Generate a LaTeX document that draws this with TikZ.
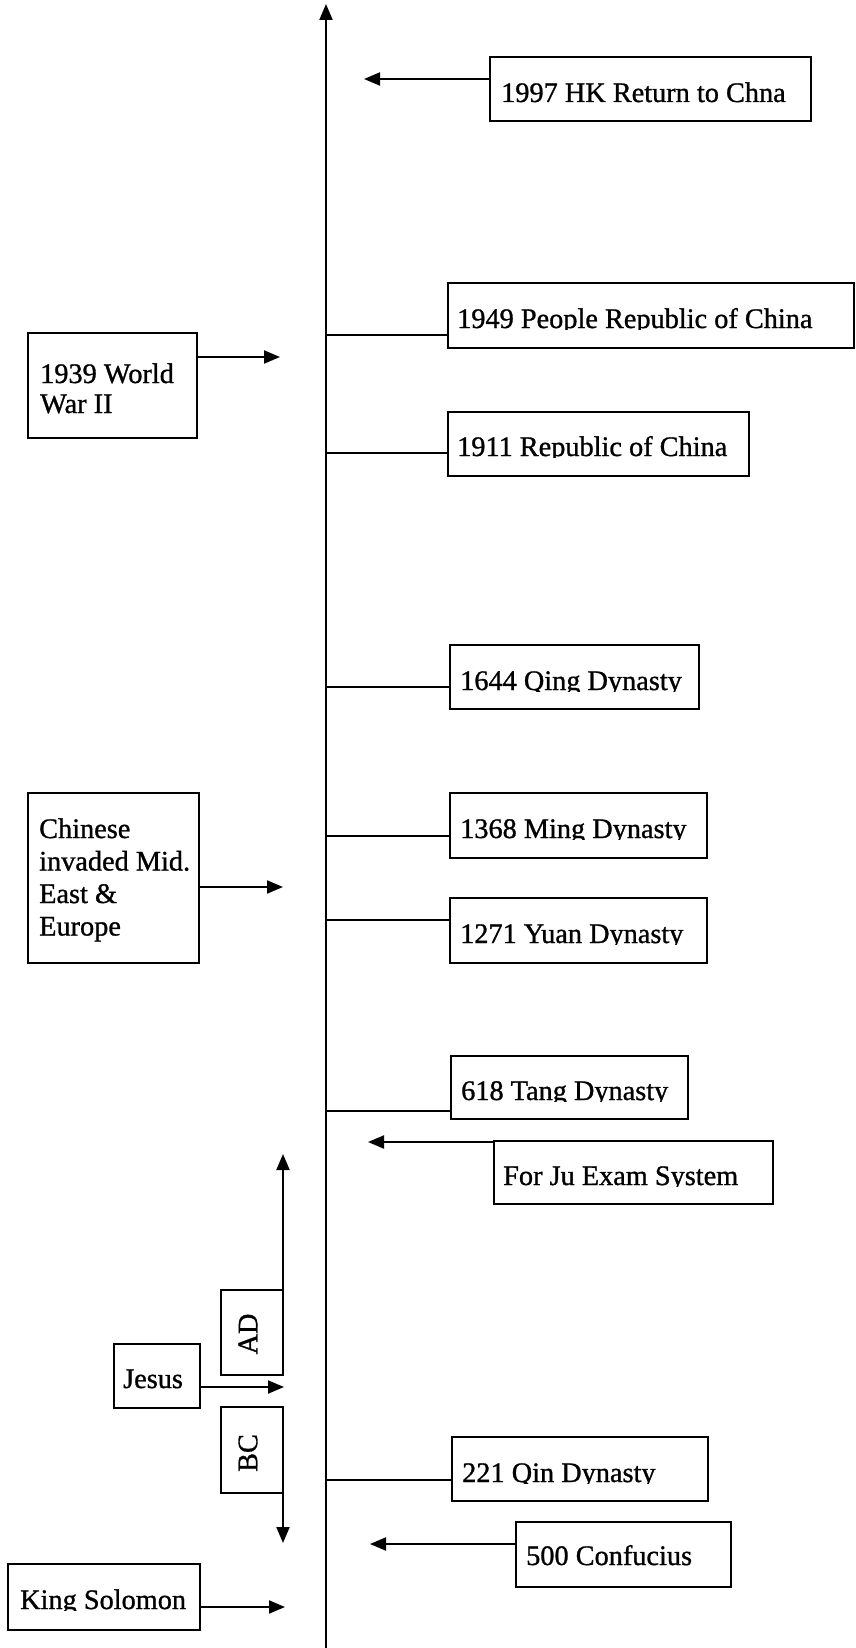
\documentclass[tikz,border=0pt]{standalone}
\usepackage{fontspec}
\setmainfont{Liberation Serif}
\newfontfamily\scanfont{Liberation Serif}[FakeBold=1.0]
\usetikzlibrary{arrows.meta}
\begin{document}
\begin{tikzpicture}[x=1pt,y=-1pt,
  box/.style={draw, line width=2pt, inner sep=0pt, outer sep=0pt, anchor=north west},
  txt/.style={inner sep=0pt, anchor=base west, font=\scanfont\fontsize{28.3}{30}\selectfont},
  rtxt/.style={inner sep=0pt, rotate=90, font=\scanfont\fontsize{28.3}{30}\selectfont},
  conn/.style={line width=2pt},
  arr/.style={line width=2pt, -{Triangle[length=16pt,width=13pt]}}]
\useasboundingbox (0,0) rectangle (855,1648);

% main axis
\coordinate (axB) at (326,1648);
\coordinate (axT) at (326,4);
\draw[arr] (axB) -- (axT);

% 1997 HK
\node[box, minimum width=321pt, minimum height=64pt] (bHK) at (490,57) {};
\node[txt] (tHK) at (501,102) {1997 HK Return to Chna};
\coordinate (hHK) at (364,79);
\draw[arr] (hHK -| bHK.west) -- (hHK);

% 1949
\node[box, minimum width=406pt, minimum height=65pt] (b1949) at (448,283) {};
\begin{scope}
\clip (448,283) rectangle (854,329);
\node[txt] (t1949) at (457,328) {1949 People Republic of China};
\end{scope}
\coordinate (a1949) at (326,335);
\draw[conn] (a1949) -- (a1949 -| b1949.west);

% 1939 WWII
\node[box, minimum width=169pt, minimum height=105pt] (bWW) at (28,333) {};
\node[txt, align=left, font=\scanfont\fontsize{28.3}{30}\selectfont] (tWW) at (40,413) {1939 World\\War II};
\coordinate (hWW) at (280,357);
\draw[arr] (hWW -| bWW.east) -- (hWW);

% 1911
\node[box, minimum width=301pt, minimum height=64pt] (b1911) at (448,412) {};
\begin{scope}
\clip (448,412) rectangle (749,457);
\node[txt] (t1911) at (457,456) {1911 Republic of China};
\end{scope}
\coordinate (a1911) at (326,453);
\draw[conn] (a1911) -- (a1911 -| b1911.west);

% 1644
\node[box, minimum width=249pt, minimum height=64pt] (b1644) at (450,645) {};
\begin{scope}
\clip (450,645) rectangle (699,691);
\node[txt] (t1644) at (460,690) {1644 Qing Dynasty};
\end{scope}
\coordinate (a1644) at (326,687);
\draw[conn] (a1644) -- (a1644 -| b1644.west);

% 1368
\node[box, minimum width=257pt, minimum height=65pt] (b1368) at (450,793) {};
\begin{scope}
\clip (450,793) rectangle (707,839);
\node[txt] (t1368) at (460,838) {1368 Ming Dynasty};
\end{scope}
\coordinate (a1368) at (326,836);
\draw[conn] (a1368) -- (a1368 -| b1368.west);

% Chinese invaded
\node[box, minimum width=171pt, minimum height=170pt] (bCI) at (28,793) {};
\node[txt, align=left, font=\scanfont\fontsize{28.3}{32.5}\selectfont] (tCI) at (39,935.5) {Chinese\\invaded Mid.\\East \&\\Europe};
\coordinate (hCI) at (283,887);
\draw[arr] (hCI -| bCI.east) -- (hCI);

% 1271
\node[box, minimum width=257pt, minimum height=65pt] (b1271) at (450,898) {};
\begin{scope}
\clip (450,898) rectangle (707,944);
\node[txt] (t1271) at (460,943) {1271 Yuan Dynasty};
\end{scope}
\coordinate (a1271) at (326,920);
\draw[conn] (a1271) -- (a1271 -| b1271.west);

% 618
\node[box, minimum width=237pt, minimum height=63pt] (b618) at (451,1056) {};
\begin{scope}
\clip (451,1056) rectangle (688,1101);
\node[txt] (t618) at (461,1100) {618 Tang Dynasty};
\end{scope}
\coordinate (a618) at (326,1111);
\draw[conn] (a618) -- (a618 -| b618.west);

% For Ju
\node[box, minimum width=279pt, minimum height=63pt] (bFJ) at (494,1141) {};
\begin{scope}
\clip (494,1141) rectangle (773,1186);
\node[txt] (tFJ) at (503,1185) {For Ju Exam System};
\end{scope}
\coordinate (hFJ) at (368,1142);
\draw[arr] (hFJ -| bFJ.west) -- (hFJ);

% AD / BC
\node[box, minimum width=62pt, minimum height=85pt] (bAD) at (221,1290) {};
\node[rtxt] (tAD) at (248,1334) {AD};
\coordinate (adT) at (283,1154);
\draw[arr] (bAD.north east) -- (adT);

\node[box, minimum width=62pt, minimum height=86pt] (bBC) at (221,1407) {};
\node[rtxt] (tBC) at (248,1453) {BC};
\coordinate (bcB) at (283,1543);
\draw[arr] (bBC.south east) -- (bcB);

% Jesus
\node[box, minimum width=86pt, minimum height=64pt] (bJ) at (114,1344) {};
\node[txt] (tJ) at (123,1388) {Jesus};
\coordinate (hJ) at (284,1387);
\draw[arr] (hJ -| bJ.east) -- (hJ);

% 221
\node[box, minimum width=256pt, minimum height=64pt] (b221) at (452,1437) {};
\begin{scope}
\clip (452,1437) rectangle (708,1483);
\node[txt] (t221) at (462,1482) {221 Qin Dynasty};
\end{scope}
\coordinate (a221) at (326,1480);
\draw[conn] (a221) -- (a221 -| b221.west);

% 500 Confucius
\node[box, minimum width=215pt, minimum height=65pt] (b500) at (516,1522) {};
\node[txt] (t500) at (526,1565) {500 Confucius};
\coordinate (h500) at (370,1544);
\draw[arr] (h500 -| b500.west) -- (h500);

% King Solomon
\node[box, minimum width=192pt, minimum height=66pt] (bKS) at (8,1564) {};
\begin{scope}
\clip (8,1564) rectangle (200,1610);
\node[txt] (tKS) at (20,1609) {King Solomon};
\end{scope}
\coordinate (hKS) at (285,1607);
\draw[arr] (hKS -| bKS.east) -- (hKS);
\end{tikzpicture}
\end{document}
